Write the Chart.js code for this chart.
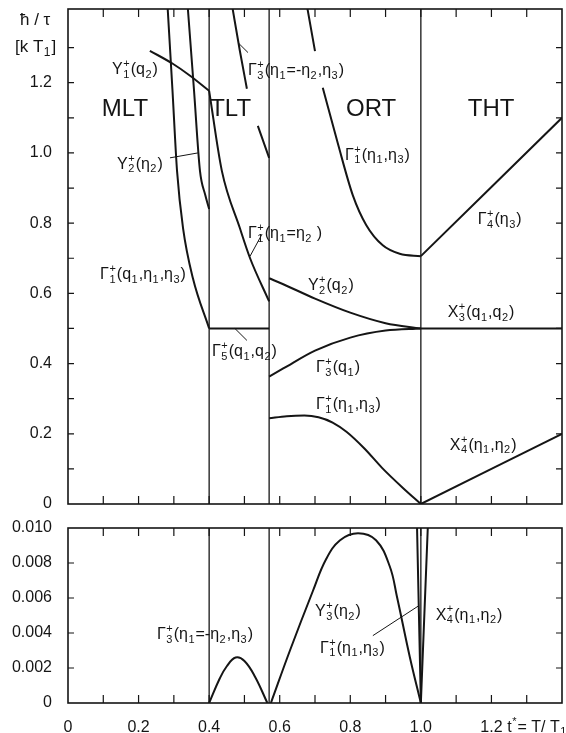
<!DOCTYPE html>
<html>
<head>
<meta charset="utf-8">
<script src="https://cdn.jsdelivr.net/npm/chart.js@4.4.0/dist/chart.umd.min.js"></script>
<style>
  html, body { margin: 0; padding: 0; background: #fff; }
  #wrap { position: relative; width: 566px; height: 733px; }
  canvas { position: absolute; left: 0; }
  #upper { top: 0; }
  #lower { top: 515px; }
</style>
</head>
<body>
<div id="wrap">
  <canvas id="upper" width="566" height="515"></canvas>
  <canvas id="lower" width="566" height="218"></canvas>
</div>
<script>
// ---- axes / ticks
const xLabelTicks = [0, 0.2, 0.4, 0.6, 0.8, 1.0, 1.2];
const xMinorTicks = [0.1, 0.2, 0.3, 0.4, 0.5, 0.6, 0.7, 0.8, 0.9, 1.0, 1.1, 1.2, 1.3];
const upperYLabelTicks = [0, 0.2, 0.4, 0.6, 0.8, 1.0, 1.2];
const upperYMinorTicks = [0.1, 0.2, 0.3, 0.4, 0.5, 0.6, 0.7, 0.8, 0.9, 1.0, 1.1, 1.2, 1.3];
const lowerYLabelTicks = [0, 0.002, 0.004, 0.006, 0.008, 0.010];
const lowerYMinorTicks = [0.002, 0.004, 0.006, 0.008];
const phaseBounds = [0.4, 0.57, 1.0];

// ---- upper panel curves  [t*, hbar/tau in kT1]
const y1Q2 = [[0.232, 1.291], [0.297, 1.254], [0.346, 1.22], [0.4, 1.177]];
const g1Eta1Eq2 = [[0.4, 1.177], [0.436, 0.949], [0.487, 0.786], [0.516, 0.70], [0.57, 0.577]];
const g1Q1Eta13 = [[0.282, 1.42], [0.296, 1.18], [0.309, 0.949], [0.326, 0.786], [0.354, 0.643], [0.4, 0.5]];
const y2Eta2 = [[0.339, 1.42], [0.357, 1.18], [0.374, 0.949], [0.389, 0.88], [0.4, 0.84]];
const g3Tlt = [[0.465, 1.42], [0.487, 1.291], [0.507, 1.183], null, [0.538, 1.077], [0.57, 0.986]];
const g1OrtUpper = [[0.677, 1.42], [0.70, 1.29], null, [0.722, 1.186], [0.765, 1.026], [0.807, 0.88],
                    [0.845, 0.795], [0.892, 0.737], [0.94, 0.713], [1.0, 0.706]];
const g4Tht = [[1.0, 0.706], [1.4, 1.1]];
const y2Q2 = [[0.57, 0.643], [0.61, 0.626], [0.70, 0.585], [0.80, 0.545], [0.90, 0.515], [1.0, 0.5]];
const g3Q1 = [[0.57, 0.363], [0.61, 0.386], [0.70, 0.437], [0.80, 0.474], [0.90, 0.494], [1.0, 0.5]];
const g5Tlt = [[0.4, 0.5], [0.57, 0.5]];
const x3Tht = [[1.0, 0.5], [1.4, 0.5]];
const g1OrtLower = [[0.57, 0.244], [0.62, 0.25], [0.67, 0.252], [0.71, 0.247], [0.75, 0.232], [0.79, 0.205],
                    [0.84, 0.158], [0.89, 0.103], [0.95, 0.045], [1.0, 0]];
const x4Tht = [[1.0, 0], [1.4, 0.2]];

// ---- lower panel curves
const g3Low = [[0.4, 0], [0.43, 0.0014], [0.45, 0.0021], [0.475, 0.0026], [0.50, 0.0024], [0.53, 0.0015], [0.565, 0]];
const y3Low = [[0.575, 0], [0.629, 0.003], [0.694, 0.0064], [0.731, 0.0082], [0.771, 0.0093], [0.822, 0.0097],
               [0.873, 0.0093], [0.912, 0.0078], [0.932, 0.0061], [0.969, 0.0026], [1.0, 0]];
const g1Low = [[0.989, 0.0102], [1.0, 0]];
const x4Low = [[1.0, 0], [1.02, 0.0102]];

// ---- leader lines
const upperLeaders = [
  [[0.482, 1.314], [0.510, 1.286]],
  [[0.289, 0.986], [0.368, 1.0]],
  [[0.473, 0.5], [0.507, 0.466]],
  [[0.55, 0.769], [0.516, 0.706]]
];
const lowerLeaders = [[[0.864, 0.00385], [0.995, 0.00557]]];

// ---- labels: markup, left x, middle y, size
const upperLabels = [
  ['MLT', 0.096, 1.129, 24], ['TLT', 0.403, 1.129, 24], ['ORT', 0.788, 1.129, 24], ['THT', 1.133, 1.129, 24],
  ['Y^+_1(q_2)', 0.125, 1.24], ['Γ^+_3(η_1=-η_2,η_3)', 0.51, 1.237], ['Y^+_2(η_2)', 0.139, 0.971],
  ['Γ^+_1(q_1,η_1,η_3)', 0.091, 0.657], ['Γ^+_5(q_1,q_2)', 0.408, 0.437], ['Γ^+_1(η_1=η_2 )', 0.51, 0.774],
  ['Γ^+_1(η_1,η_3)', 0.785, 0.997], ['Γ^+_4(η_3)', 1.161, 0.814], ['Y^+_2(q_2)', 0.68, 0.626],
  ['X^+_3(q_1,q_2)', 1.076, 0.549], ['Γ^+_3(q_1)', 0.703, 0.391], ['Γ^+_1(η_1,η_3)', 0.703, 0.286],
  ['X^+_4(η_1,η_2)', 1.082, 0.171]
];
const lowerLabels = [
  ['Γ^+_3(η_1=-η_2,η_3)', 0.252, 0.00397], ['Y^+_3(η_2)', 0.70, 0.00529],
  ['X^+_4(η_1,η_2)', 1.042, 0.0051], ['Γ^+_1(η_1,η_3)', 0.714, 0.0032]
];

const INK = '#151515';
const FAMILY = '"Liberation Sans", Arial, sans-serif';
Chart.defaults.font.family = FAMILY;
Chart.defaults.font.size = 16;
Chart.defaults.color = INK;

// monotone curves by default, a plain spline for the two arches
function line(pairs, width, arch) {
  return {
    data: pairs.map(p => p ? { x: p[0], y: p[1] } : { x: null, y: null }),
    borderColor: INK, borderWidth: width || 2, pointRadius: 0, showLine: true,
    cubicInterpolationMode: arch ? 'default' : 'monotone', tension: arch ? 0.4 : 0, spanGaps: false
  };
}
function leader(pairs) {
  return { data: pairs.map(p => ({ x: p[0], y: p[1] })), borderColor: INK, borderWidth: 1,
           pointRadius: 0, showLine: true, tension: 0 };
}

// text with stacked super/subscripts, e.g. Γ^+_1(η_1)
function rich(ctx, s, x, yMid, size) {
  const main = size + 'px ' + FAMILY, small = Math.round(size * 0.68) + 'px ' + FAMILY;
  const base = yMid + size * 0.36;
  ctx.textAlign = 'left';
  ctx.textBaseline = 'alphabetic';
  let i = 0, cx = x;
  const grab = () => {
    if (s[i] === '{') { const j = s.indexOf('}', i); const g = s.slice(i + 1, j); i = j + 1; return g; }
    return s[i++];
  };
  while (i < s.length) {
    if (s[i] === '^' || s[i] === '_') {
      let sup = '', sub = '';
      while (s[i] === '^' || s[i] === '_') { const k = s[i++]; const g = grab(); if (k === '^') sup = g; else sub = g; }
      ctx.font = small;
      let w = 0;
      if (sup) { ctx.fillText(sup, cx + 0.5, base - size * 0.45); w = Math.max(w, ctx.measureText(sup).width); }
      if (sub) { ctx.fillText(sub, cx + 0.5, base + size * 0.22); w = Math.max(w, ctx.measureText(sub).width); }
      cx += w + 1.5;
    } else {
      let j = i;
      while (j < s.length && s[j] !== '^' && s[j] !== '_') j++;
      const run = s.slice(i, j);
      ctx.font = main;
      ctx.fillText(run, cx, base);
      cx += ctx.measureText(run).width;
      i = j;
    }
  }
}

function panel(cfg) {
  return {
    id: 'panel',
    afterDraw(chart) {
      const { ctx, chartArea: a, scales: { x, y } } = chart;
      ctx.save();
      ctx.strokeStyle = INK;
      ctx.lineWidth = 1.6;
      ctx.strokeRect(a.left, a.top, a.width, a.height);
      ctx.lineWidth = 1.2;
      ctx.beginPath();
      xMinorTicks.forEach(v => {
        const px = x.getPixelForValue(v);
        ctx.moveTo(px, a.bottom); ctx.lineTo(px, a.bottom - 8);
        ctx.moveTo(px, a.top); ctx.lineTo(px, a.top + 8);
      });
      cfg.yMinor.forEach(v => {
        const py = y.getPixelForValue(v);
        ctx.moveTo(a.left, py); ctx.lineTo(a.left + 6, py);
        ctx.moveTo(a.right, py); ctx.lineTo(a.right - 6, py);
      });
      ctx.stroke();
      ctx.fillStyle = INK;
      cfg.labels.forEach(l => rich(ctx, l[0], x.getPixelForValue(l[1]), y.getPixelForValue(l[2]), l[3] || 16));
      if (cfg.extra) cfg.extra(ctx, a, x, y);
      ctx.restore();
    }
  };
}

const fmt = d => v => (v === 0 ? '0' : v.toFixed(d));
const noOverflow = s => { s.paddingTop = 0; s.paddingBottom = 0; s.paddingLeft = 0; s.paddingRight = 0; };

new Chart(document.getElementById('upper'), {
  type: 'scatter',
  data: {
    datasets: [
      ...phaseBounds.map(b => line([[b, 0], [b, 1.41]], 1.3)),
      line(y1Q2), line(g1Eta1Eq2), line(g1Q1Eta13), line(y2Eta2), line(g3Tlt), line(g1OrtUpper),
      line(g4Tht), line(y2Q2), line(g3Q1), line(g5Tlt), line(x3Tht), line(g1OrtLower), line(x4Tht),
      ...upperLeaders.map(leader)
    ]
  },
  options: {
    responsive: false, animation: false,
    layout: { padding: { top: 9, right: 4, bottom: 11, left: 0 } },
    plugins: { legend: { display: false }, tooltip: { enabled: false } },
    scales: {
      x: { type: 'linear', min: 0, max: 1.4, display: false },
      y: {
        type: 'linear', min: 0, max: 1.41,
        afterBuildTicks: s => { s.ticks = upperYLabelTicks.map(v => ({ value: v })); },
        afterFit: s => { s.width = 68; noOverflow(s); },
        grid: { display: false, drawTicks: false }, border: { display: false },
        ticks: { padding: 16, callback: fmt(1) }
      }
    }
  },
  plugins: [panel({
    yMinor: upperYMinorTicks, labels: upperLabels,
    extra: (ctx, a) => {
      rich(ctx, 'ħ / τ', a.left - 48, a.top + 10, 17);
      rich(ctx, '[k T_1]', a.left - 53, a.top + 37, 17);
    }
  })]
});

new Chart(document.getElementById('lower'), {
  type: 'scatter',
  data: {
    datasets: [
      ...phaseBounds.map(b => line([[b, 0], [b, 0.010]], 1.3)),
      line(g3Low, 2, true), line(y3Low, 2, true), line(g1Low), line(x4Low),
      ...lowerLeaders.map(leader)
    ]
  },
  options: {
    responsive: false, animation: false,
    layout: { padding: { top: 13, right: 4, bottom: 0, left: 0 } },
    plugins: { legend: { display: false }, tooltip: { enabled: false } },
    scales: {
      x: {
        type: 'linear', min: 0, max: 1.4,
        afterBuildTicks: s => { s.ticks = xLabelTicks.map(v => ({ value: v })); },
        afterFit: s => { s.height = 30; noOverflow(s); },
        grid: { display: false, drawTicks: false }, border: { display: false },
        ticks: { padding: 15, maxRotation: 0, callback: fmt(1) }
      },
      y: {
        type: 'linear', min: 0, max: 0.010,
        afterBuildTicks: s => { s.ticks = lowerYLabelTicks.map(v => ({ value: v })); },
        afterFit: s => { s.width = 68; noOverflow(s); },
        grid: { display: false, drawTicks: false }, border: { display: false },
        ticks: { padding: 16, callback: fmt(3) }
      }
    }
  },
  plugins: [panel({
    yMinor: lowerYMinorTicks, labels: lowerLabels,
    extra: (ctx, a, x) => {
      rich(ctx, 't^*= T/ T_1', x.getPixelForValue(1.245), a.bottom + 23, 16);
    }
  })]
});
</script>
</body>
</html>
